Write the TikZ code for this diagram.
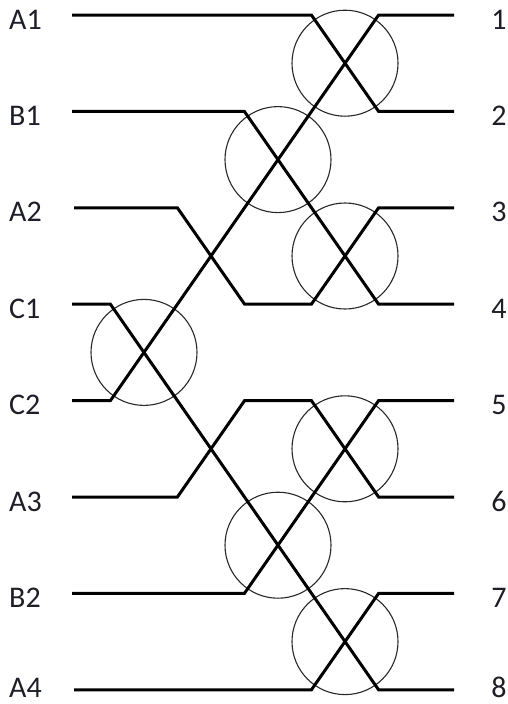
\documentclass[tikz,border=0pt]{standalone}
\usepackage{fontspec}
\setmainfont{Carlito}
\definecolor{txt}{RGB}{30,30,40}
\definecolor{ring}{RGB}{40,40,40}
\begin{document}
\begin{tikzpicture}[x=1pt,y=-1pt,
  wire/.style={line width=3pt,line join=miter,line cap=butt},
  sw/.style={circle,draw=ring,line width=1.1pt,minimum size=106pt,inner sep=0pt},
  lab/.style={font=\fontsize{30}{36}\selectfont,text=txt,inner sep=0pt}]
\useasboundingbox (0,0) rectangle (508,704);
% rows
\def\ra{15}\def\rb{111.4}\def\rc{207.8}\def\rd{304.2}
\def\re{400.6}\def\rf{497}\def\rg{593.4}\def\rh{689.8}
% switches
\node[sw] (s1) at (345,63.2) {};
\node[sw] (s2) at (278,159.6) {};
\node[sw] (s3) at (345,256) {};
\node[sw] (sc) at (144,352.4) {};
\node[sw] (s5) at (345,448.8) {};
\node[sw] (s6) at (278,545.2) {};
\node[sw] (s7) at (345,641.6) {};
% left labels
\node[lab,anchor=base west] (A1) at (9,\ra+14) {A1};
\node[lab,anchor=base west] (B1) at (9,\rb+14) {B1};
\node[lab,anchor=base west] (A2) at (9,\rc+14) {A2};
\node[lab,anchor=base west] (C1) at (9,\rd+14) {C1};
\node[lab,anchor=base west] (C2) at (9,\re+14) {C2};
\node[lab,anchor=base west] (A3) at (9,\rf+14) {A3};
\node[lab,anchor=base west] (B2) at (9,\rg+14) {B2};
\node[lab,anchor=base west] (A4) at (9,\rh+8) {A4};
% right labels
\node[lab,anchor=base] (o1) at (499,\ra+14) {1};
\node[lab,anchor=base] (o2) at (499,\rb+14) {2};
\node[lab,anchor=base] (o3) at (499,\rc+14) {3};
\node[lab,anchor=base] (o4) at (499,\rd+14) {4};
\node[lab,anchor=base] (o5) at (499,\re+14) {5};
\node[lab,anchor=base] (o6) at (499,\rf+14) {6};
\node[lab,anchor=base] (o7) at (499,\rg+14) {7};
\node[lab,anchor=base] (o8) at (499,\rh+8) {8};
% wire end points
\coordinate (iA1) at (72,\ra);
\coordinate (iB1) at (72,\rb);
\coordinate (iA2) at (74,\rc);
\coordinate (iC1) at (72,\rd);
\coordinate (iC2) at (72,\re);
\coordinate (iA3) at (72,\rf);
\coordinate (iB2) at (72,\rg);
\coordinate (iA4) at (74,\rh);
\coordinate (e1) at (454,\ra);
\coordinate (e2) at (454,\rb);
\coordinate (e3) at (454,\rc);
\coordinate (e4) at (454,\rd);
\coordinate (e5) at (454,\re);
\coordinate (e6) at (454,\rf);
\coordinate (e7) at (454,\rg);
\coordinate (e8) at (454,\rh);
% wires
\draw[wire] (iA1) -- (311.4,\ra) -- (378.6,\rb) -- (e2);
\draw[wire] (iC2) -- (110.4,\re) -- (378.6,\ra) -- (e1);
\draw[wire] (iC1) -- (110.4,\rd) -- (378.6,\rh) -- (e8);
\draw[wire] (iA2) -- (177.4,\rc) -- (244.6,\rd) -- (311.4,\rd) -- (378.6,\rc) -- (e3);
\draw[wire] (iB1) -- (244.4,\rb) -- (378.6,\rd) -- (e4);
\draw[wire] (iA3) -- (177.4,\rf) -- (244.6,\re) -- (311.4,\re) -- (378.6,\rf) -- (e6);
\draw[wire] (iB2) -- (244.4,\rg) -- (378.6,\re) -- (e5);
\draw[wire] (iA4) -- (311.4,\rh) -- (378.6,\rg) -- (e7);
\end{tikzpicture}
\end{document}
